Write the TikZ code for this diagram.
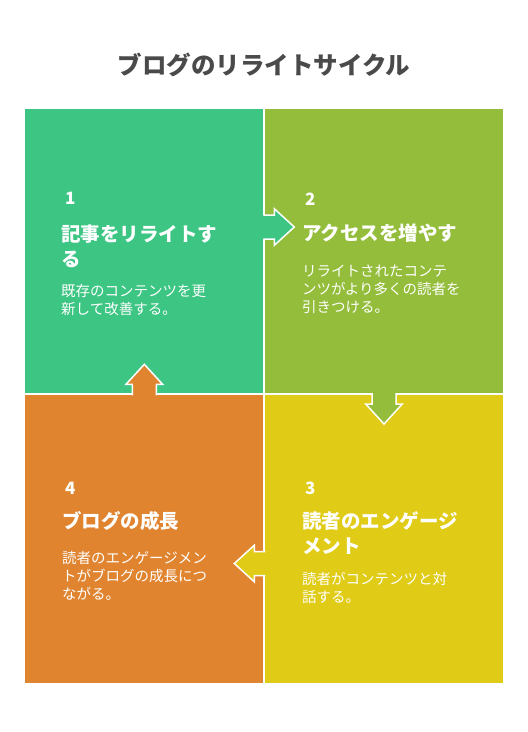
\documentclass[tikz,border=0pt]{standalone}
\usepackage{fontspec}
\setmainfont{Noto Sans CJK JP}
\definecolor{cgreen}{HTML}{3CC583}
\definecolor{colive}{HTML}{93BD3A}
\definecolor{cyellow}{HTML}{E0CB16}
\definecolor{corange}{HTML}{E08430}
\definecolor{ctitle}{HTML}{4A4A4A}
\tikzset{
  numtxt/.style={anchor=base west, inner sep=0pt, text=white, font=\bfseries\fontsize{17}{17}\selectfont},
  headtxt/.style={anchor=base west, inner sep=0pt, text=white, align=left, font=\bfseries\fontsize{19.5}{25}\selectfont},
  desctxt/.style={anchor=base west, inner sep=0pt, text=white, align=left, font=\fontsize{14.5}{18}\selectfont},
  arrowline/.style={draw=white, line width=1.5pt, line join=miter},
}
\begin{document}
\begin{tikzpicture}[x=1pt,y=-1pt]
\useasboundingbox (0,0) rectangle (528,732);
\fill[white] (0,0) rectangle (528,732);
% title
\node[inner sep=0pt, anchor=base, text=ctitle, font=\bfseries\fontsize{24.5}{24.5}\selectfont] (title) at (264,74.3) {ブログのリライトサイクル};
% panels
\fill[cgreen] (25,109) rectangle (263.3,393);
\fill[colive] (265.3,109) rectangle (503.3,393);
\fill[corange] (25,395.3) rectangle (263.3,683.3);
\fill[cyellow] (265.3,395.3) rectangle (503.3,683.3);
% arrow 1 -> 2 (right)
\fill[cgreen] (261,215) -- (274.3,215) -- (274.3,208.7) -- (294.3,227) -- (274.3,245.3) -- (274.3,239) -- (261,239) -- cycle;
\draw[arrowline] (263.3,215) -- (274.3,215) -- (274.3,208.7) -- (294.3,227) -- (274.3,245.3) -- (274.3,239) -- (263.3,239);
% arrow 2 -> 3 (down)
\fill[colive] (372,391) -- (372,404) -- (365.7,404) -- (384,424) -- (402.3,404) -- (396,404) -- (396,391) -- cycle;
\draw[arrowline] (372,393) -- (372,404) -- (365.7,404) -- (384,424) -- (402.3,404) -- (396,404) -- (396,393);
% arrow 3 -> 4 (left)
\fill[cyellow] (267.5,551.5) -- (254.3,551.5) -- (254.3,545.2) -- (234.3,563.5) -- (254.3,581.8) -- (254.3,575.5) -- (267.5,575.5) -- cycle;
\draw[arrowline] (265.3,551.5) -- (254.3,551.5) -- (254.3,545.2) -- (234.3,563.5) -- (254.3,581.8) -- (254.3,575.5) -- (265.3,575.5);
% arrow 4 -> 1 (up)
\fill[corange] (132.3,397.5) -- (132.3,384.3) -- (126,384.3) -- (144.3,364.3) -- (162.6,384.3) -- (156.3,384.3) -- (156.3,397.5) -- cycle;
\draw[arrowline] (132.3,395.3) -- (132.3,384.3) -- (126,384.3) -- (144.3,364.3) -- (162.6,384.3) -- (156.3,384.3) -- (156.3,395.3);
% panel 1 (base anchor = baseline of last line)
\node[numtxt] (n1) at (65,204.5) {1};
\node[headtxt] (h1) at (61,266.4) {記事をリライトす\\る};
\node[desctxt] (d1) at (61,314) {既存のコンテンツを更\\新して改善する。};
% panel 2
\node[numtxt] (n2) at (305,205) {2};
\node[headtxt] (h2) at (302,240.7) {アクセスを増やす};
\node[desctxt] (d2) at (302,312.2) {リライトされたコンテ\\ンツがより多くの読者を\\引きつける。};
% panel 3
\node[numtxt] (n3) at (305,494) {3};
\node[headtxt] (h3) at (302,553.4) {読者のエンゲージ\\メント};
\node[desctxt] (d3) at (302,602.3) {読者がコンテンツと対\\話する。};
% panel 4
\node[numtxt] (n4) at (65,494) {4};
\node[headtxt] (h4) at (62,528.4) {ブログの成長};
\node[desctxt] (d4) at (62,599.8) {読者のエンゲージメン\\トがブログの成長につ\\ながる。};
\end{tikzpicture}
\end{document}
